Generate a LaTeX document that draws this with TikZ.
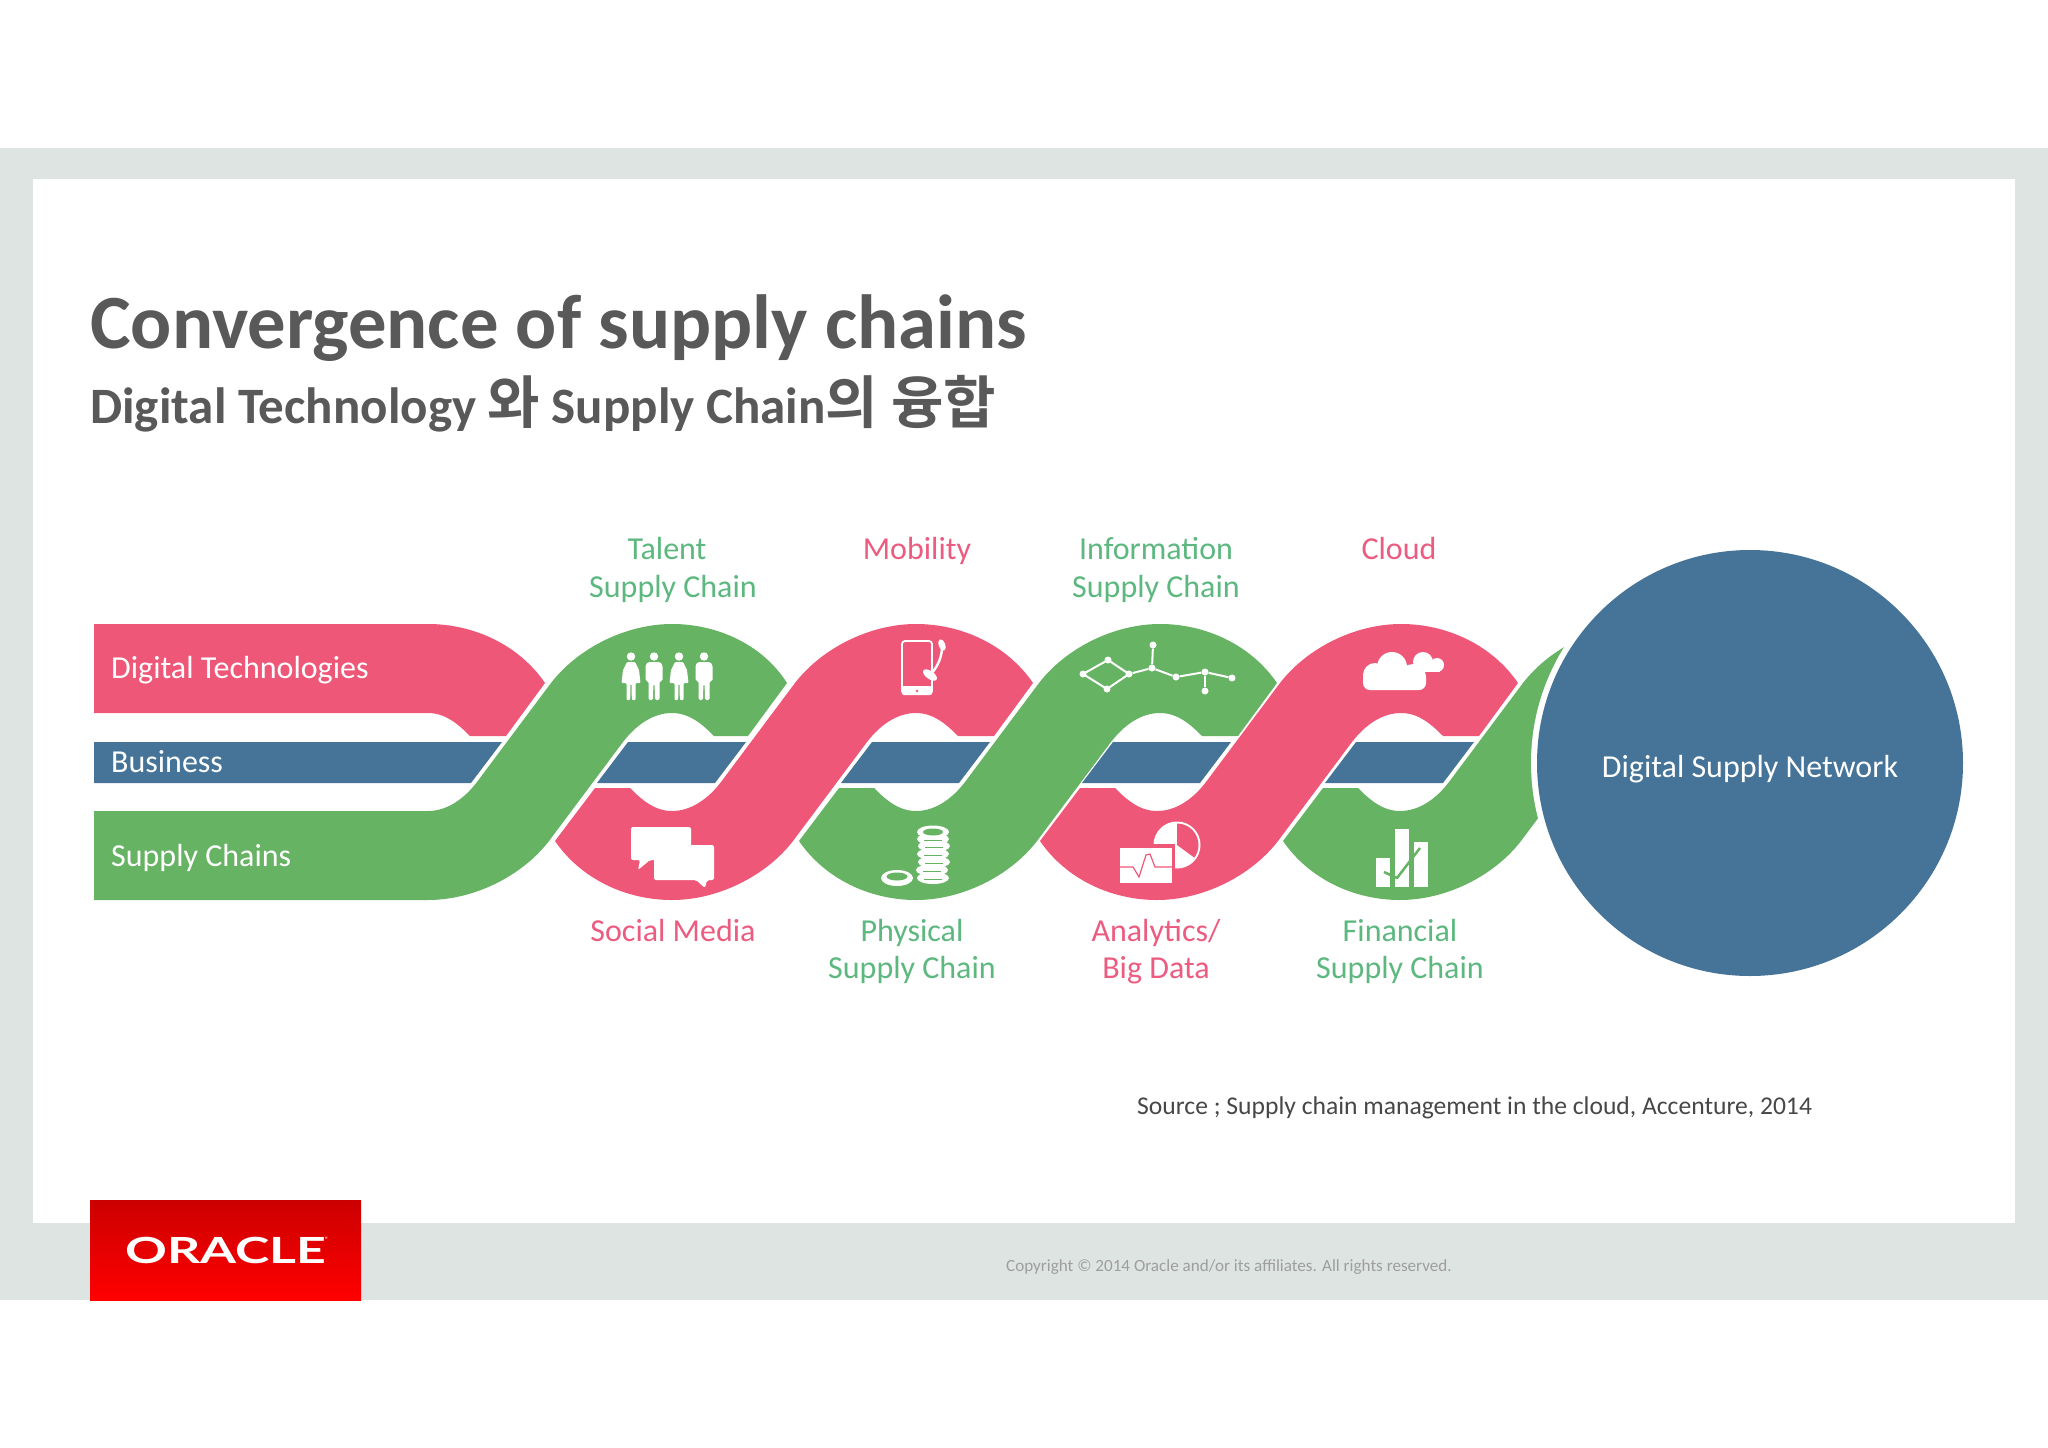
\documentclass[tikz,border=0pt]{standalone}
\usepackage{fontspec}
\setmainfont{Carlito}
\newfontfamily\krfont{Noto Sans CJK KR}[BoldFont={* Bold}]
\newfontfamily\logofont{Lato}
\definecolor{rpink}{HTML}{EF5778}
\definecolor{rgreen}{HTML}{66B363}
\definecolor{rblue}{HTML}{457498}
\definecolor{lblgreen}{HTML}{5DB87F}
\definecolor{lblpink}{HTML}{EC5C80}
\definecolor{frame}{HTML}{DEE4E2}
\definecolor{ttl}{HTML}{595959}
\newcommand{\sz}[1]{\fontsize{#1}{#1}\selectfont}
\newcommand{\ribbonS}[2]{%
  \fill[#2,shift={(#1,0)}] (-117,841) .. controls (-91,879) and (-46,900) .. (0,900)
    .. controls (46,900) and (94,876) .. (121,841) -- (195,742)
    .. controls (208,725) and (225,713) .. (244,713)
    .. controls (262,713) and (275,725) .. (286,736) -- (322,736) -- (361,683)
    .. controls (335,645) and (290,624) .. (244,624)
    .. controls (198,624) and (150,648) .. (123,683) -- (49,782)
    .. controls (36,799) and (19,811) .. (0,811)
    .. controls (-18,811) and (-31,799) .. (-42,788) -- (-77,788) -- cycle;}
\newcommand{\bizpiece}[1]{%
  \fill[rblue,shift={(#1,0)}] (-44,742) -- (74,742) -- (43,783) -- (-75,783) -- cycle;}
\newcommand{\man}[1]{%
  \begin{scope}[shift={(#1,0)}]
  \fill[white] (0,656.5) circle (4.2);
  \fill[white,rounded corners=1.5] (-6,662) -- (6,662) -- (8.5,665) -- (8.5,681) -- (5.5,681) -- (5.5,700) -- (1,700) -- (0.6,684) -- (-0.6,684) -- (-1,700) -- (-5.5,700) -- (-5.5,681) -- (-8.5,681) -- (-8.5,665) -- cycle;
  \end{scope}}
\newcommand{\woman}[1]{%
  \begin{scope}[shift={(#1,0)}]
  \fill[white] (0,656.5) circle (4.2);
  \fill[white,rounded corners=1] (-4,662) -- (4,662) -- (8,670) -- (9.5,683) -- (4.5,683) -- (4.5,700) -- (0.8,700) -- (0.6,684) -- (-0.6,684) -- (-0.8,700) -- (-4.5,700) -- (-4.5,683) -- (-9.5,683) -- (-8,670) -- cycle;
  \end{scope}}
\tikzset{
  lblg/.style={text=lblgreen,inner sep=0pt,anchor=base,font=\sz{32}},
  lblp/.style={text=lblpink,inner sep=0pt,anchor=base,font=\sz{32}},
  bandtxt/.style={text=white,inner sep=0pt,anchor=base west,font=\sz{32}},
  netdot/.style={circle,fill=white,inner sep=0pt,minimum size=7pt},
  netline/.style={white,line width=2pt},
}
\begin{document}
\begin{tikzpicture}[x=1pt,y=-1pt]
\useasboundingbox (0,0) rectangle (2048,1448);
\fill[white] (0,0) rectangle (2048,1448);
% slide frame
\fill[frame] (0,148) rectangle (2048,1300);
\fill[white] (33,179) rectangle (2015,1223);
% logo
\shade[top color=red!80!black,bottom color=red] (90,1200) rectangle (361,1300);
\node[inner sep=0pt,text=white] (logo) at (226,1250) {\scalebox{1.44}[1]{\logofont\bfseries\sz{36}ORACLE}};
\node[inner sep=0pt,text=white] (logoreg) at (327,1240) {\sz{8}®};
% titles
\node[anchor=base west,inner sep=0pt,text=ttl,font=\bfseries\sz{76.7}] (title) at (90,348) {Convergence of supply chains};
\node[anchor=base west,inner sep=0pt,text=ttl,font=\bfseries\sz{51}] (subtitle) at (90,423) {Digital Technology {\krfont\sz{57}와} Supply Chain{\krfont\sz{57}의 융합}};
% ribbons
\fill[rblue] (94,742) -- (502,742) -- (471,783) -- (94,783) -- cycle;
\foreach \t in {672,916,1157,1400}{\bizpiece{\t}}
% first pink band
\fill[rpink] (94,624) -- (428,624) .. controls (474,624) and (519,645) .. (545,683) -- (506,736) -- (470,736)
   .. controls (459,725) and (446,713) .. (428,713) -- (94,713) -- cycle;
% first green band
\fill[rgreen,shift={(428,0)}] (-334,900) -- (0,900)
    .. controls (46,900) and (94,876) .. (121,841) -- (195,742)
    .. controls (208,725) and (225,713) .. (244,713)
    .. controls (262,713) and (275,725) .. (286,736) -- (320,736) -- (359,683)
    .. controls (335,645) and (290,624) .. (244,624)
    .. controls (198,624) and (150,648) .. (123,683) -- (49,782)
    .. controls (36,799) and (19,811) .. (0,811) -- (-334,811) -- cycle;
\ribbonS{672}{rpink}
\ribbonS{916}{rgreen}
\ribbonS{1157}{rpink}
\ribbonS{1400}{rgreen}
% circle
\fill[white] (1750,763) circle (219);
\fill[rblue] (1750,763) circle (213);
% people
\woman{631}\man{654}\woman{679}\man{704}
% chat
\fill[white,rounded corners=2] (631,827) -- (691,827) -- (691,860) -- (650,860) -- (638,870) -- (640,860) -- (631,860) -- cycle;
\fill[white,rounded corners=2] (654,845) -- (714,845) -- (714,880) -- (707,880) -- (705,888) -- (696,880) -- (654,880) -- cycle;
% phone
\draw[white,line width=1.8pt,rounded corners=3] (902,641) rectangle (932,694);
\fill[white,rounded corners=2] (902,686) rectangle (932,695);
\fill[rpink] (917,691) circle (1.4);
\draw[white,line width=2.4pt] (942,643) .. controls (943,655) and (938,668) .. (928,677);
\fill[white,rotate around={-70:(942,645)}] (942,645) ellipse (6 and 3.2);
\fill[white,rotate around={-35:(930,675)}] (930,675) ellipse (8 and 4);
% coins
\foreach \y/\dx in {878/0,870/-1,862/1,854/0,846/1,839/0}{%
  \fill[white] (933+\dx,\y) ellipse (16 and 6);
  \draw[rgreen,line width=0.7pt] (924+\dx,\y+1) -- (942+\dx,\y+1);}
\fill[white] (933,832) ellipse (16 and 6.5);
\fill[rgreen] (933,832) ellipse (10 and 3.5);
\fill[white] (897,878) ellipse (16 and 8);
\fill[rgreen] (897,876.5) ellipse (10.5 and 4);
% network
\draw[netline] (1083,674) -- (1108,660) -- (1129,674) -- (1107,689) -- cycle;
\node[netdot] (n1) at (1083,674) {};
\node[netdot] (n2) at (1108,660) {};
\node[netdot] (n3) at (1129,674) {};
\node[netdot] (n4) at (1107,689) {};
\node[netdot] (n5) at (1152,668) {};
\node[netdot] (n6) at (1153,645) {};
\node[netdot] (n7) at (1176,677) {};
\node[netdot] (n8) at (1205,672) {};
\node[netdot] (n9) at (1205,691) {};
\node[netdot] (n10) at (1232,678) {};
\draw[netline] (n3) -- (n5);
\draw[netline] (n5) -- (n6);
\draw[netline] (n5) -- (n7);
\draw[netline] (n7) -- (n8);
\draw[netline] (n8) -- (n9);
\draw[netline] (n8) -- (n10);
% pie and chart
\fill[white] (1177,845) circle (23.5);
\fill[rpink] (1177,845) -- (1177,823.5) arc[start angle=-90,end angle=36,radius=21.5] -- cycle;
\fill[rpink] (1116,844) rectangle (1175,886);
\fill[white] (1120,848) rectangle (1172,883);
\draw[rpink,line width=1.2pt] (1120,867) -- (1133,867) -- (1139,877) -- (1146,855) -- (1150,854) -- (1155,867) -- (1172,867);
% cloud
\fill[white] (1423,662) circle (10);
\fill[white] (1437,665) circle (7);
\fill[white] (1420,662) rectangle (1440,672);
\fill[white,rounded corners=7] (1363,670) rectangle (1426,690);
\fill[white] (1392,667) circle (15);
\fill[white] (1375,675) circle (12);
\fill[white] (1413,677) circle (13);
% bars
\fill[white] (1376,858) rectangle (1390,887);
\fill[white] (1395,829) rectangle (1409,887);
\fill[white] (1414,842) rectangle (1428,887);
\draw[rgreen,line width=2.5pt,line join=round] (1384,872) -- (1397,878) -- (1420,848);
% band labels
\node[bandtxt] (dt) at (111,678) {Digital Technologies};
\node[bandtxt] (biz) at (111,772) {Business};
\node[bandtxt] (sc) at (111,866) {Supply Chains};
% top labels
\node[lblg] (l1) at (667,559) {Talent};
\node[lblg] (l2) at (673,597) {Supply Chain};
\node[lblp] (l3) at (917,559) {Mobility};
\node[lblg] (l4) at (1156,559) {Information};
\node[lblg] (l5) at (1156,597) {Supply Chain};
\node[lblp] (l6) at (1399,559) {Cloud};
% bottom labels
\node[lblp] (l7) at (673,941) {Social Media};
\node[lblg] (l8) at (912,941) {Physical};
\node[lblg] (l9) at (912,978) {Supply Chain};
\node[lblp] (l10) at (1156,941) {Analytics/};
\node[lblp] (l11) at (1156,978) {Big Data};
\node[lblg] (l12) at (1400,941) {Financial};
\node[lblg] (l13) at (1400,978) {Supply Chain};
\node[text=white,inner sep=0pt,anchor=base,font=\sz{32}] (dsn) at (1750,777) {Digital Supply Network};
% footers
\node[anchor=west,inner sep=0pt,text=black!72,font=\sz{25.6}] (src) at (1137,1108) {Source ; Supply chain management in the cloud, Accenture, 2014};
\node[anchor=west,inner sep=0pt,text=black!38,font=\sz{17.1}] (copy) at (1006,1267) {Copyright © 2014 Oracle and/or its affiliates. All rights reserved.};
\end{tikzpicture}
\end{document}
